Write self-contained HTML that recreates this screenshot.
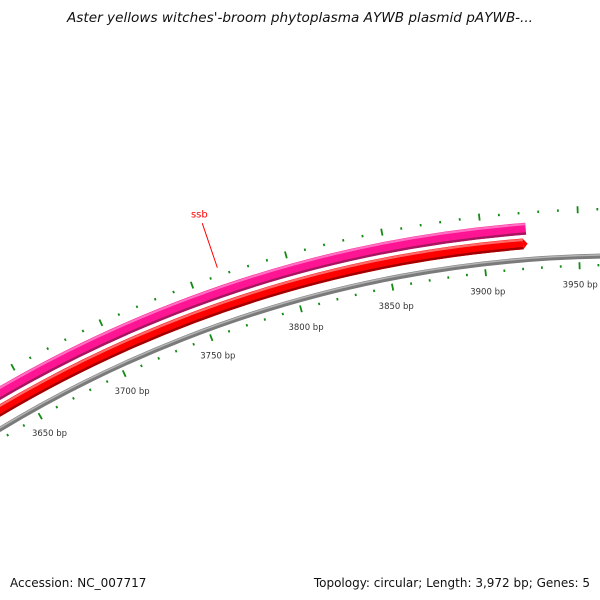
<!DOCTYPE html>
<html><head><meta charset="utf-8"><style>
html,body{margin:0;padding:0;background:#fff;width:600px;height:600px;overflow:hidden;}
svg{display:block;overflow:hidden;}
text{font-family:"DejaVu Sans","Liberation Sans",sans-serif;}
</style></head><body>
<svg id="map" width="600" height="600" viewBox="0 0 600 600" xmlns="http://www.w3.org/2000/svg">
<rect width="600" height="600" fill="#fff"/>
<text x="300" y="22" text-anchor="middle" font-size="13" font-style="italic" fill="#111" textLength="466" lengthAdjust="spacingAndGlyphs">Aster yellows witches'-broom phytoplasma AYWB plasmid pAYWB-...</text>
<g id="backbone"></g>
<g id="features"></g>
<g id="ticks"></g>
<g id="labels"></g>
<text x="10" y="587" font-size="12" fill="#111">Accession: NC_007717</text>
<text x="590" y="587" text-anchor="end" font-size="12" fill="#111">Topology: circular; Length: 3,972 bp; Genes: 5</text>
</svg>
<script>
const seqLength = 3972;
const featureNames = ["ssb", "gene-red"];
const featureStarts = [3500, 3500];
const featureEnds = [3923, 3923];
const featureColors = ["#ff1493", "#ff0000"];
const labelPositions = [3765];
const tickLabelValues = [3650, 3700, 3750, 3800, 3850, 3900, 3950];
const tickStep = 10;
const majorStep = 50;

const NS = "http://www.w3.org/2000/svg";
const CX = 621, CY = 1456;
const R_GRAY = 1200, R_RED = 1216, R_PINK = 1231, R_TIN = 1191, R_TOUT = 1247, R_LAB = 1172;
function ang(bp){ return (bp - seqLength) / seqLength * 2 * Math.PI; }
function pt(bp, r){ const a = ang(bp); return [CX + r*Math.sin(a), CY - r*Math.cos(a)]; }
function arcPath(a, b, r){
  const p = pt(a, r), q = pt(b, r);
  const large = (b - a) / seqLength > 0.5 ? 1 : 0;
  return `M${p[0]},${p[1]} A${r},${r} 0 ${large} 1 ${q[0]},${q[1]}`;
}
function mk(tag, attrs, parent){
  const el = document.createElementNS(NS, tag);
  for (const k in attrs) el.setAttribute(k, attrs[k]);
  parent.appendChild(el); return el;
}
const bb = document.getElementById("backbone");
let c = mk("path", {d:arcPath(3500, seqLength, R_GRAY), fill:"none", stroke:"#7a7a7a", "stroke-width":5}, bb);


let c2 = mk("path", {d:arcPath(3500, seqLength, R_GRAY+1.2), fill:"none", stroke:"#b4b4b4", "stroke-width":1.5}, bb);



const fg = document.getElementById("features");
const radii = [R_PINK, R_RED];
const darks = ["#a8155f", "#a00000"];
const lights = ["#ff70c2", "#ff6a6a"];
for (let i = 0; i < featureNames.length; i++){
  const r = radii[i], w = i === 0 ? 12 : 11;
  const endArc = i === 1 ? featureEnds[i] - 2 : featureEnds[i];
  const g = mk("g", {}, fg);
  
  
  mk("path", {d:arcPath(featureStarts[i], endArc, r), fill:"none", stroke:featureColors[i], "stroke-width":w}, g);
  mk("path", {d:arcPath(featureStarts[i], endArc, r - w/2 + 1.2), fill:"none", stroke:darks[i], "stroke-width":2.4}, g);
  mk("path", {d:arcPath(featureStarts[i], endArc, r + w/2 - 1.5), fill:"none", stroke:lights[i], "stroke-width":2.2}, g);
  if (i === 1){
    const a = pt(endArc, r + w/2), b = pt(featureEnds[i] + 0.4, r), d = pt(endArc, r - w/2);
    const tri = mk("polygon", {points:`${a[0]},${a[1]} ${b[0]},${b[1]} ${d[0]},${d[1]}`, fill:featureColors[i]}, g);
    
    
  }
}
{
  const lab = document.getElementById("labels");
  const bp = labelPositions[0];
  const lp = pt(bp, 1255), tp = pt(bp, 1302), xp = pt(bp, 1311);
  const ln = mk("line", {x1:lp[0], y1:lp[1], x2:tp[0], y2:tp[1], stroke:"#ff0000", "stroke-width":1}, lab);
  
  
  const t = mk("text", {x:xp[0], y:xp[1]+3, "text-anchor":"middle", "font-size":10, fill:"#ff0000"}, lab);
  t.textContent = "ssb";
  
  
}
const tg = document.getElementById("ticks");
for (let bp = 3500; bp <= seqLength; bp += tickStep){
  const major = bp % majorStep === 0;
  const h = major ? 3.5 : 1.2;
  [R_TIN, R_TOUT].forEach((r, k) => {
    const p = pt(bp, r - h), q = pt(bp, r + h);
    const l = mk("line", {x1:p[0], y1:p[1], x2:q[0], y2:q[1], stroke:"#138a13", "stroke-width":1.8}, tg);
    
    
  });
}
const lg = document.getElementById("labels");
tickLabelValues.forEach(v => {
  const p = pt(v, R_LAB);
  const t = mk("text", {x:p[0], y:p[1] + 3, "text-anchor":"middle", "font-size":8.5, fill:"#333"}, lg);
  t.textContent = v + " bp";
  
  
});
</script>
</body></html>
